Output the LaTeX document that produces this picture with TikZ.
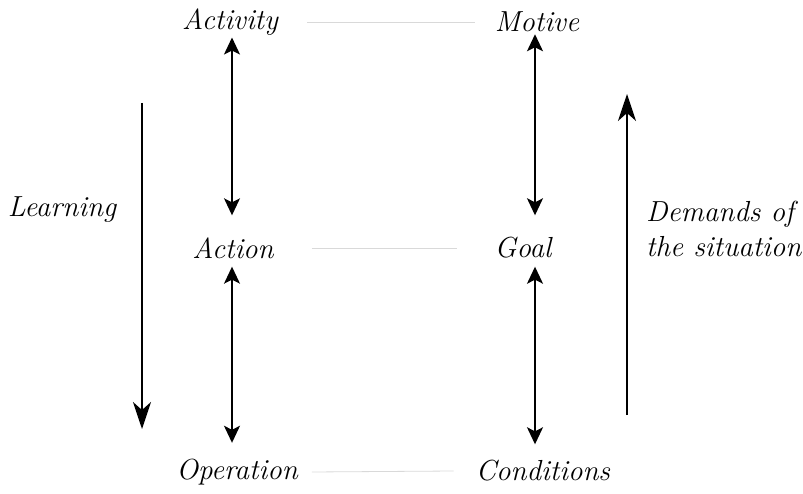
\documentclass[tikz,border=0pt]{standalone}
\usetikzlibrary{arrows.meta}
\begin{document}
\begin{tikzpicture}[x=1pt,y=-1pt,
  lbl/.style={inner sep=0pt,font=\fontsize{29}{35}\selectfont\itshape},
  link/.style={draw=black!15,line width=0.8pt},
  dbl/.style={line width=1.4pt,{Stealth[length=17pt,width=16pt,inset=4pt]}-{Stealth[length=17pt,width=16pt,inset=4pt]}},
  big/.style={line width=1.5pt,-{Stealth[length=27pt,width=18pt,inset=8pt]}}]
\useasboundingbox (0,0) rectangle (803,494);
\node[lbl] (activity) at (230,22) {Activity};
\node[lbl] (motive) at (537,22) {Motive};
\node[lbl] (action) at (233,248) {Action};
\node[lbl] (goal) at (523,248) {Goal};
\node[lbl] (operation) at (237,472) {Operation};
\node[lbl] (conditions) at (543,471) {Conditions};
\draw[link] ([xshift=29pt]activity.east) -- ([xshift=-20pt]motive.west);
\draw[link] ([xshift=38pt]action.east) -- ([xshift=-37pt]goal.west);
\draw[link] ([xshift=14pt]operation.east) -- ([xshift=-22pt]conditions.west);
\draw[dbl,shorten <=2pt,shorten >=22pt] (activity.south -| 232,0) -- (action.north -| 232,0);
\draw[dbl,shorten <=8pt,shorten >=16pt] (action.south -| 232,0) -- (operation.north -| 232,0);
\draw[dbl,shorten <=2pt,shorten >=22pt] (motive.south -| 535,0) -- (goal.north -| 535,0);
\draw[dbl,shorten <=8pt,shorten >=16pt] (goal.south -| 535,0) -- (conditions.north -| 535,0);
\coordinate (l1) at (142,103);
\coordinate (l2) at (142,429);
\draw[big] (l1) -- (l2);
\node[lbl] (learning) at (62,210) {Learning};
\coordinate (d1) at (627,415);
\coordinate (d2) at (627,94);
\draw[big] (d1) -- (d2);
\node[lbl,anchor=west,align=left] (demands) at (646,229) {Demands of\\the situation};
\end{tikzpicture}
\end{document}
